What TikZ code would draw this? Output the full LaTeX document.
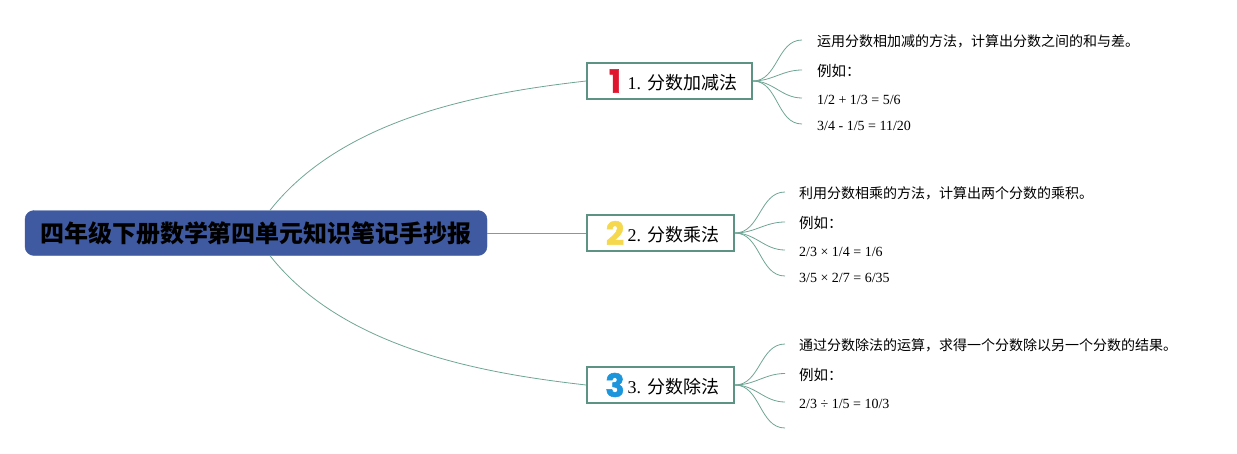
\documentclass[tikz,border=0pt]{standalone}
\usepackage{fontspec}
\setmainfont{Liberation Serif}
\newfontfamily\cjk{Noto Sans CJK SC}
\newfontfamily\badgefont[BoldFeatures={FakeBold=1.5}]{Poppins}
\usepackage{tikz}
\definecolor{mainblue}{HTML}{3F5AA0}
\definecolor{boxgreen}{HTML}{5C9383}
\definecolor{linkgreen}{HTML}{6FA595}
\definecolor{badgered}{HTML}{E0142D}
\definecolor{badgeyellow}{HTML}{F5D84E}
\definecolor{badgeblue}{HTML}{1B95DC}

\begin{document}
\frenchspacing
\begin{tikzpicture}[x=1pt,y=-1pt,
		main/.style={rectangle,rounded corners=9pt,fill=mainblue,draw=mainblue,minimum width=462pt,minimum height=45pt,inner sep=0pt,font=\fontsize{24}{28}\selectfont\cjk\bfseries},
		topic/.style={rectangle,draw=boxgreen,line width=1.8pt,fill=white,text width=#1,inner xsep=15pt,minimum height=36pt,inner ysep=0pt,text height=16.2pt,text depth=0pt,align=right,font=\fontsize{18}{22}\selectfont},
		leaf/.style={anchor=west,inner ysep=0pt,inner xsep=#1,font=\fontsize{14}{17}\selectfont},
		badge/.style={inner sep=0pt,font=\fontsize{32}{36}\selectfont\badgefont\bfseries},
		link/.style={draw=linkgreen,line width=0.8pt},
		twig/.style={out=0,in=180}]
		\useasboundingbox (0,0) rectangle (1237,453);
		
		\node[main]       (M)  at (256,233)   {四年级下册数学第四单元知识笔记手抄报};
		\node[topic=135pt] (B1) at (669.5,81)  {1. {\cjk 分数加减法}};
		\node[topic=117pt] (B2) at (660.5,233) {2. {\cjk 分数乘法}};
		\node[topic=117pt] (B3) at (660.5,385) {3. {\cjk 分数除法}};
		
		\node[badge,text=badgered]    (N1) at (615,81)  {1};
		\node[badge,text=badgeyellow] (N2) at (615,233) {2};
		\node[badge,text=badgeblue]   (N3) at (615,385) {3};
		
		\node[leaf=15pt] (A1) at (802,41)  {\cjk 运用分数相加减的方法，计算出分数之间的和与差。};
		\node[leaf=15pt] (A2) at (802,71)  {\cjk\fontsize{14.5}{18}\selectfont 例如：};
		\node[leaf=15pt] (A3) at (802,100) {1/2 + 1/3 = 5/6};
		\node[leaf=15pt] (A4) at (802,126) {3/4 - 1/5 = 11/20};
		
		\node[leaf=14pt] (C1) at (785,193) {\cjk 利用分数相乘的方法，计算出两个分数的乘积。};
		\node[leaf=14pt] (C2) at (785,223) {\cjk\fontsize{14.5}{18}\selectfont 例如：};
		\node[leaf=14pt] (C3) at (785,252) {2/3 × 1/4 = 1/6};
		\node[leaf=14pt] (C4) at (785,278) {3/5 × 2/7 = 6/35};
		
		\node[leaf=14pt] (D1) at (785,345) {\cjk 通过分数除法的运算，求得一个分数除以另一个分数的结果。};
		\node[leaf=14pt] (D2) at (785,375) {\cjk\fontsize{14.5}{18}\selectfont 例如：};
		\node[leaf=14pt] (D3) at (785,404) {2/3 ÷ 1/5 = 10/3};
		\coordinate (D4) at (785,428);
		
		\path[link] (M.east) edge (B2.west);
		\draw[link] ([xshift=14pt]M.north) .. controls (345,115) and (490,92) .. (B1.west);
		\draw[link] ([xshift=14pt]M.south) .. controls (345,351) and (490,374) .. (B3.west);
		
		\path[link] (B1.east) edge [twig] ([yshift=1pt]A1.west)
		edge [twig] ([yshift=1pt]A2.west)
		edge [twig] ([yshift=2pt]A3.west)
		edge [twig] ([yshift=2pt]A4.west);
		\path[link] (B2.east) edge [twig] ([yshift=1pt]C1.west)
		edge [twig] ([yshift=1pt]C2.west)
		edge [twig] ([yshift=2pt]C3.west)
		edge [twig] ([yshift=2pt]C4.west);
		\path[link] (B3.east) edge [twig] ([yshift=1pt]D1.west)
		edge [twig] ([yshift=1.5pt]D2.west)
		edge [twig] ([yshift=2pt]D3.west)
		edge [twig] (D4);
	\end{tikzpicture}
\end{document}
